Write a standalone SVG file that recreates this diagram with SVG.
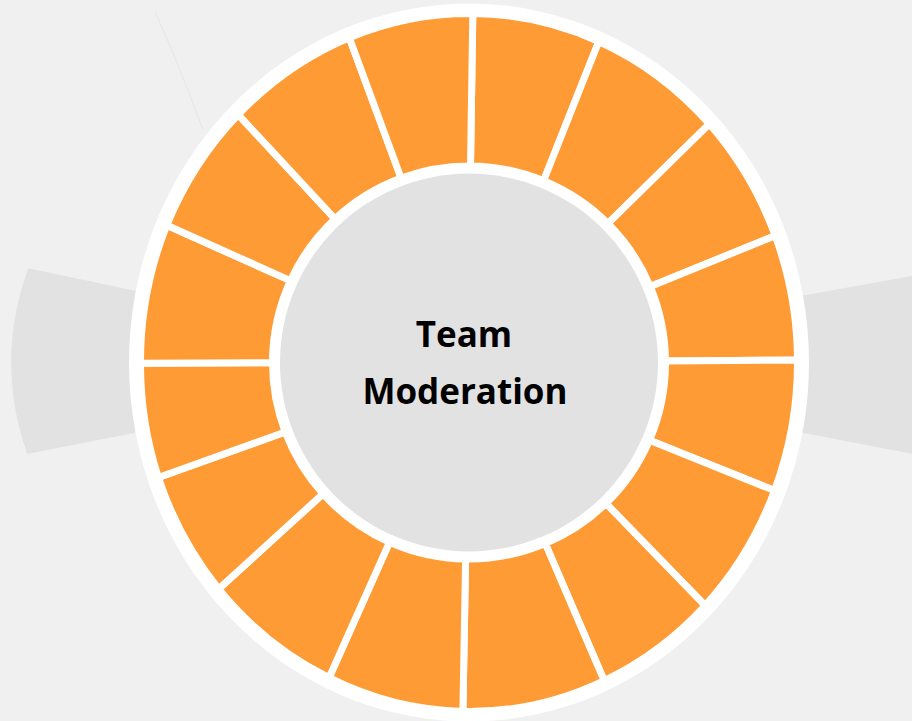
<svg xmlns="http://www.w3.org/2000/svg" width="912" height="721" viewBox="0 0 912 721">
<style>
.seg{fill:#FF9B35;stroke:#FFFFFF;stroke-width:7;stroke-linejoin:miter}
.band{fill:#E2E2E2}
.label{font-family:"Open Sans","Noto Sans","Liberation Sans",sans-serif;font-weight:700;font-size:35px;fill:#000000;text-anchor:middle}
</style>
<rect id="background" x="0" y="0" width="912" height="721" fill="#F0F0F0"/>
<path d="M155,12 Q178,62 203,130" fill="none" stroke="#E0E0E0" stroke-width="1" opacity="0.6"/>
<g id="bands">
<path class="band" d="M28.3,268.3 L140,291.8 L140,431.7 L27.3,454 A269,269 0 0 1 28.3,268.3 Z"/>
<path class="band" d="M800,295.9 L940,271 L940,459 L800,432.3 Z"/>
</g>
<ellipse id="outer-rim" cx="469" cy="362.5" rx="340" ry="359" fill="#FFFFFF"/>
<g id="ring">
<g id="seg-1"><path class="seg" d="M470.5,166 L472.8,13.5 A328.5,349 0 0 1 598.8,41.5 L543.6,180.8 A196.5,196.5 0 0 0 470.5,166 Z"/></g>
<g id="seg-2"><path class="seg" d="M543.6,180.8 L598.8,41.5 A328.5,349 0 0 1 709.3,124 L607.9,223.5 A196.5,196.5 0 0 0 543.6,180.8 Z"/></g>
<g id="seg-3"><path class="seg" d="M607.9,223.5 L709.3,124 A328.5,349 0 0 1 775.2,235.7 L650.3,286.5 A196.5,196.5 0 0 0 607.9,223.5 Z"/></g>
<g id="seg-4"><path class="seg" d="M650.3,286.5 L775.2,235.7 A328.5,349 0 0 1 797.5,360 L665.5,361 A196.5,196.5 0 0 0 650.3,286.5 Z"/></g>
<g id="seg-5"><path class="seg" d="M665.5,361 L797.5,360 A328.5,349 0 0 1 774.5,490.6 L649.5,440.3 A196.5,196.5 0 0 0 665.5,361 Z"/></g>
<g id="seg-6"><path class="seg" d="M649.5,440.3 L774.5,490.6 A328.5,349 0 0 1 705.1,605.5 L606,503.5 A196.5,196.5 0 0 0 649.5,440.3 Z"/></g>
<g id="seg-7"><path class="seg" d="M606,503.5 L705.1,605.5 A328.5,349 0 0 1 604.2,680.6 L545.3,543.6 A196.5,196.5 0 0 0 606,503.5 Z"/></g>
<g id="seg-8"><path class="seg" d="M545.3,543.6 L604.2,680.6 A328.5,349 0 0 1 462.9,711.5 L465.6,559 A196.5,196.5 0 0 0 545.3,543.6 Z"/></g>
<g id="seg-9"><path class="seg" d="M465.6,559 L462.9,711.5 A328.5,349 0 0 1 329.1,677.7 L389.5,542.2 A196.5,196.5 0 0 0 465.6,559 Z"/></g>
<g id="seg-10"><path class="seg" d="M389.5,542.2 L329.1,677.7 A328.5,349 0 0 1 218.7,588.9 L323,493.9 A196.5,196.5 0 0 0 389.5,542.2 Z"/></g>
<g id="seg-11"><path class="seg" d="M323,493.9 L218.7,588.9 A328.5,349 0 0 1 158.4,477.5 L285.2,432 A196.5,196.5 0 0 0 323,493.9 Z"/></g>
<g id="seg-12"><path class="seg" d="M285.2,432 L158.4,477.5 A328.5,349 0 0 1 140.5,363.2 L272.5,362.8 A196.5,196.5 0 0 0 285.2,432 Z"/></g>
<g id="seg-13"><path class="seg" d="M272.5,362.8 L140.5,363.2 A328.5,349 0 0 1 166.8,225.3 L290.4,280.6 A196.5,196.5 0 0 0 272.5,362.8 Z"/></g>
<g id="seg-14"><path class="seg" d="M290.4,280.6 L166.8,225.3 A328.5,349 0 0 1 238.3,114.7 L335,218.9 A196.5,196.5 0 0 0 290.4,280.6 Z"/></g>
<g id="seg-15"><path class="seg" d="M335,218.9 L238.3,114.7 A328.5,349 0 0 1 349.3,37.7 L401.1,178.1 A196.5,196.5 0 0 0 335,218.9 Z"/></g>
<g id="seg-16"><path class="seg" d="M401.1,178.1 L349.3,37.7 A328.5,349 0 0 1 472.8,13.5 L470.5,166 A196.5,196.5 0 0 0 401.1,178.1 Z"/></g>
</g>
<g id="center">
<circle cx="469" cy="362.5" r="189" fill="#E2E2E2"/>
<text class="label" x="464" y="346.7">Team</text>
<text class="label" x="465" y="404.3">Moderation</text>
</g>
<g id="connectors"/>
</svg>
